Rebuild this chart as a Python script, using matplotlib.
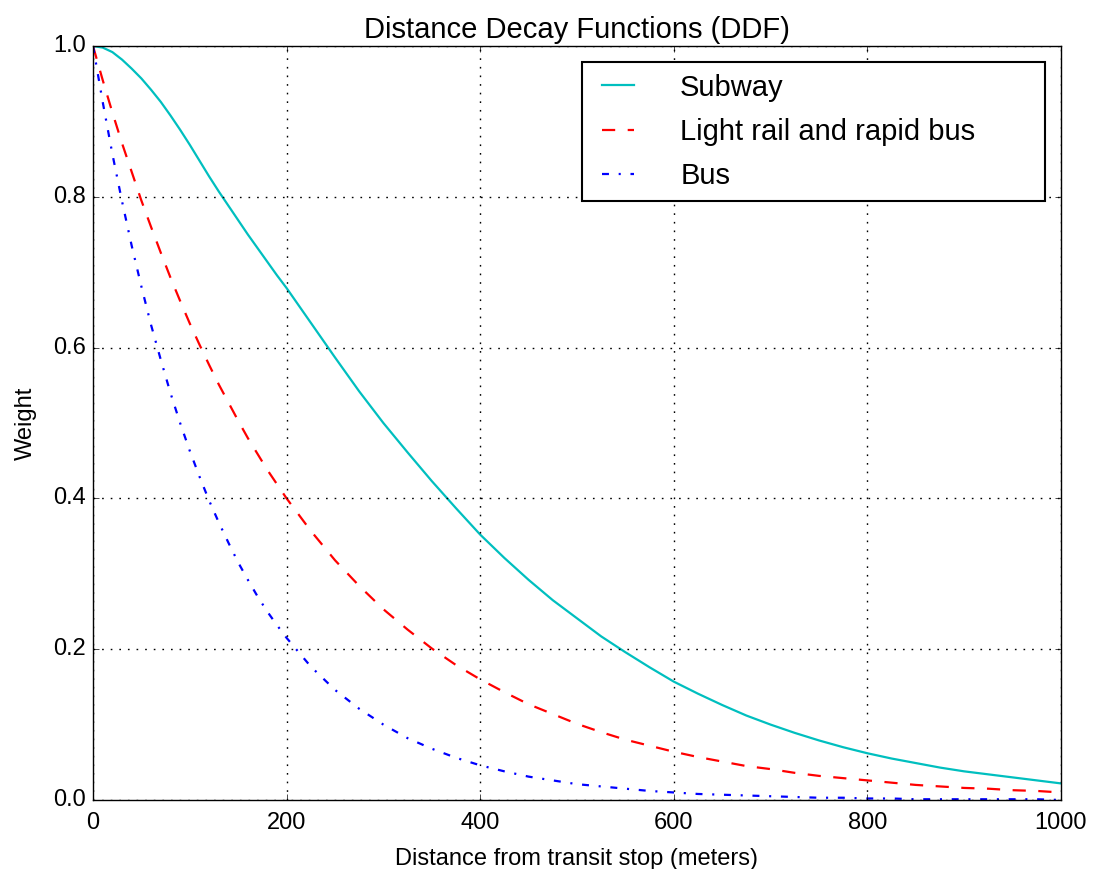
import matplotlib
matplotlib.use("Agg")
import matplotlib.pyplot as plt

# distance in meters: 10 m steps near the stop, 25 m after that
distance = list(range(0, 200, 10)) + list(range(200, 1001, 25))

subway = [1.000, 0.998, 0.992, 0.982, 0.970, 0.957, 0.942, 0.926, 0.908, 0.889,
          0.869, 0.848, 0.827, 0.807, 0.788, 0.769, 0.750, 0.732, 0.714, 0.696,
          0.679, 0.633, 0.587, 0.542, 0.500, 0.461, 0.423, 0.387, 0.352, 0.321,
          0.292, 0.265, 0.241, 0.217, 0.196, 0.176, 0.157, 0.141, 0.126, 0.112,
          0.100, 0.089, 0.079, 0.070, 0.062, 0.055, 0.049, 0.043, 0.038, 0.034,
          0.030, 0.026, 0.022]

light_rail = [1.000, 0.955, 0.912, 0.871, 0.833, 0.795, 0.760, 0.726, 0.693, 0.662,
              0.632, 0.604, 0.577, 0.551, 0.527, 0.503, 0.480, 0.459, 0.438, 0.419,
              0.400, 0.357, 0.318, 0.284, 0.253, 0.226, 0.201, 0.179, 0.160, 0.143,
              0.127, 0.114, 0.101, 0.090, 0.080, 0.072, 0.064, 0.057, 0.051, 0.045,
              0.041, 0.036, 0.032, 0.029, 0.026, 0.023, 0.020, 0.018, 0.016, 0.015,
              0.013, 0.012, 0.010]

bus = [1.000, 0.926, 0.857, 0.794, 0.735, 0.681, 0.630, 0.584, 0.540, 0.500,
       0.463, 0.429, 0.397, 0.368, 0.341, 0.315, 0.292, 0.270, 0.250, 0.232,
       0.215, 0.177, 0.146, 0.121, 0.100, 0.082, 0.068, 0.056, 0.046, 0.038,
       0.031, 0.026, 0.021, 0.018, 0.015, 0.012, 0.010, 0.008, 0.007, 0.006,
       0.005, 0.004, 0.003, 0.003, 0.002, 0.002, 0.001, 0.001, 0.001, 0.001,
       0.001, 0.001, 0.000]

labels = ["Subway", "Light rail and rapid bus", "Bus"]

plt.style.use("classic")
plt.rcParams["font.family"] = ["Liberation Sans", "DejaVu Sans"]

fig = plt.figure(figsize=(10.98, 8.69), dpi=100, facecolor="white")
ax = fig.add_axes([0.0847, 0.0794, 0.8816, 0.8676])

ax.plot(distance, subway, color="c", ls="-", lw=1.6, label=labels[0])
ax.plot(distance, light_rail, color="r", ls=(0, (9.5, 9)), lw=1.6, label=labels[1])
ax.plot(distance, bus, color="b", ls=(0, (5, 7, 1.5, 7)), lw=1.6, label=labels[2])

ax.set_xlim(0, 1000)
ax.set_ylim(0, 1.0)
ax.grid(True, color="k", linestyle=(0, (1.2, 5)), lw=1.0)
ax.tick_params(labelsize=17)
ax.tick_params(axis="x", pad=8.5)
ax.tick_params(axis="y", pad=5)
ax.set_title("Distance Decay Functions (DDF)", fontsize=21, pad=6)
ax.set_xlabel("Distance from transit stop (meters)", fontsize=17, labelpad=10)
ax.set_ylabel("Weight", fontsize=17, labelpad=12)

leg = ax.legend(loc="upper left", bbox_to_anchor=(0.505, 0.7918, 0.4785, 0.187),
                mode="expand", borderaxespad=0, fontsize=21, handlelength=1.7,
                handletextpad=1.27, labelspacing=0.55, borderpad=0.4)
leg.get_frame().set_linewidth(1.5)

fig.savefig("out.png", dpi=100, facecolor="white")
